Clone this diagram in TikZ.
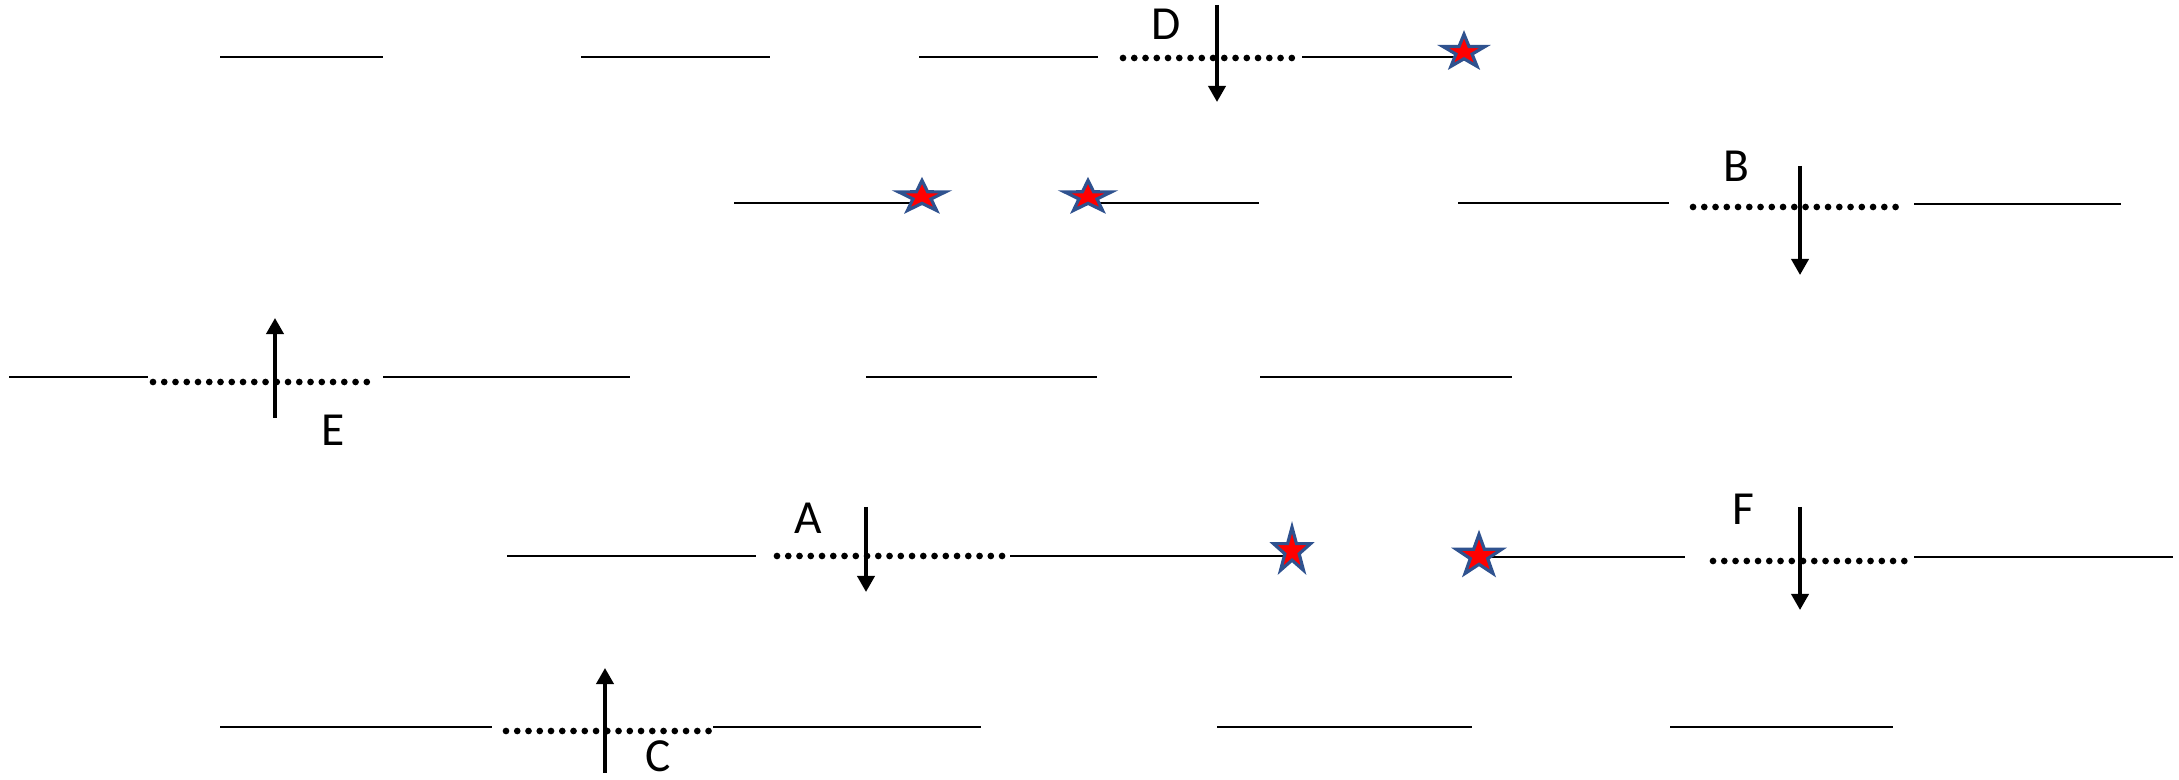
\documentclass[tikz,border=0pt]{standalone}
\usepackage{fontspec}
\setmainfont{Carlito}
\usepackage{xcolor}
\usetikzlibrary{arrows.meta}
\usetikzlibrary{shapes.geometric}

\definecolor{starblue}{HTML}{2F528F}

\begin{document}
\begin{tikzpicture}[x=0.01cm,y=-0.01cm,
  level/.style={line width=0.6pt},
  gap/.style={line width=1.9pt, line cap=round, dash pattern=on 0pt off 3.2pt},
  spin/.style={line width=1.05pt, -{Triangle[length=0.16cm,width=0.17cm]}},
  redstar/.style={star, star points=5, star point ratio=2.6, fill=red,
    draw=starblue, line width=0.9pt, inner sep=0pt, transform shape},
  tag/.style={font=\fontsize{13.5}{15}\selectfont, inner sep=0pt}]
\useasboundingbox (0,0) rectangle (2179,780);
%
% levels, row by row
\draw[level] (220,57) -- (383,57);
\draw[level] (581,57) -- (770,57);
\draw[level] (919,57) -- (1098,57);
\draw[gap] (1123,58) -- (1295,58);
\draw[level] (1302,57) -- (1464,57);
%
\draw[level] (734,203) -- (921,203);
\draw[level] (1088,203) -- (1259,203);
\draw[level] (1458,203) -- (1669,203);
\draw[gap] (1693,207) -- (1905,207);
\draw[level] (1914,204) -- (2121,204);
%
\draw[level] (9,377) -- (148,377);
\draw[gap] (153,382) -- (376,382);
\draw[level] (383,377) -- (630,377);
\draw[level] (866,377) -- (1097,377);
\draw[level] (1260,377) -- (1512,377);
%
\draw[level] (507,556) -- (756,556);
\draw[gap] (777,556) -- (1003,556);
\draw[level] (1010,556) -- (1292,556);
\draw[level] (1479,557) -- (1685,557);
\draw[gap] (1713,561) -- (1905,561);
\draw[level] (1914,557) -- (2173,557);
%
\draw[level] (220,727) -- (492,727);
\draw[gap] (506,731) -- (710,731);
\draw[level] (713,727) -- (981,727);
\draw[level] (1217,727) -- (1472,727);
\draw[level] (1670,727) -- (1893,727);
%
% stars
\node[redstar, minimum size=0.354cm, xscale=1.25] (s1) at (1464,52) {};
\node[redstar, minimum size=0.332cm, xscale=1.49] (s2) at (922,197) {};
\node[redstar, minimum size=0.332cm, xscale=1.49] (s3) at (1088,197) {};
\node[redstar, minimum size=0.476cm, xscale=0.82] (s4) at (1292,551) {};
\node[redstar, minimum size=0.432cm, xscale=1.1] (s5) at (1479,556) {};
%
% spin arrows
\coordinate (d0) at (1217,5);   \coordinate (d1) at (1217,102);
\coordinate (b0) at (1800,166); \coordinate (b1) at (1800,275);
\coordinate (e0) at (275,418);  \coordinate (e1) at (275,318);
\coordinate (a0) at (866,507);  \coordinate (a1) at (866,592);
\coordinate (f0) at (1800,507); \coordinate (f1) at (1800,610);
\coordinate (c0) at (605,773);  \coordinate (c1) at (605,668);
\draw[spin] (d0) -- (d1);
\draw[spin] (b0) -- (b1);
\draw[spin] (e0) -- (e1);
\draw[spin] (a0) -- (a1);
\draw[spin] (f0) -- (f1);
\draw[spin] (c0) -- (c1);
%
\node[tag] (D) at (1166,24) {D};
\node[tag] (B) at (1736,166) {B};
\node[tag] (E) at (333,430) {E};
\node[tag] (A) at (808,518) {A};
\node[tag] (F) at (1743,509) {F};
\node[tag] (C) at (658,756) {C};
\end{tikzpicture}
\end{document}
